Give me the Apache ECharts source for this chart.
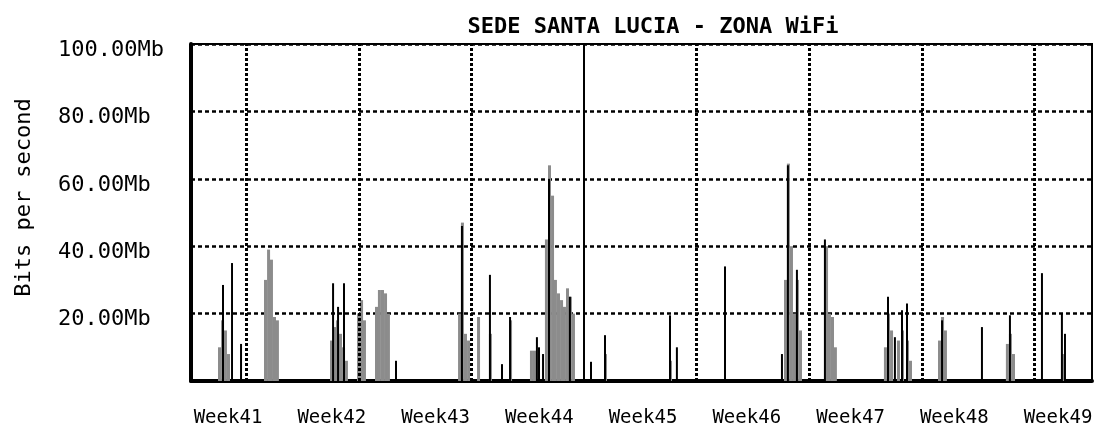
<!DOCTYPE html>
<html>
<head>
<meta charset="utf-8">
<script src="https://cdn.jsdelivr.net/npm/echarts@6/dist/echarts.min.js"></script>
<style>
html,body{margin:0;padding:0;background:#fff;}
#chart{width:1094px;height:431px;}
</style>
</head>
<body>
<div id="chart"></div>
<script>
// ---- data (x in days from plot start, y in Mb) ----
const title = 'SEDE SANTA LUCIA - ZONA WiFi';
const yAxisName = 'Bits per second';
const weekLabels = ['Week41','Week42','Week43','Week44','Week45','Week46','Week47','Week48','Week49'];
const weekBoundaries = [3.4, 10.4, 17.4, 24.4, 31.4, 38.4, 45.4, 52.4];
const monthBoundary = 24.4;

const inDays = [1.74,1.93,2.11,2.30, 4.60,4.79,4.97,5.16,5.34,
  8.70,8.89,9.07,9.26,9.45,9.63, 10.38,10.57,10.75,
  11.50,11.68,11.87,12.06,12.24, 16.66,16.84,17.03,17.22, 17.84, 18.58, 19.83,
  21.13,21.32, 22.06,22.25,22.44,22.62,22.81,23.00,23.18,23.37,23.55,23.74,
  25.73, 29.77, 36.92,37.10,37.29,37.48,37.66,37.85, 39.47,39.65,39.84,40.02,
  43.13,43.32,43.51,43.94,44.19,44.50,44.69, 46.49,46.68,46.86, 50.71,50.90,51.09, 54.19];
const inMb = [10,18,15,8, 30,39,36,19,18,
  12,16,18,14,10,6, 20,24,18,
  22,27,27,26,20, 20,47,14,12, 19, 14, 18,
  9,9, 42,64,55,30,26,24,22,27.5,25,20,
  8, 6, 30,64.5,40,20,30,15, 40,20,19,10,
  10,20,15,12,15,12,6, 12,19,15, 11,14,8, 8];

const outDays = [1.99,2.55,3.11, 8.83,9.14,9.51, 12.74,
  16.84,18.58,19.33,19.83, 21.50,21.63,21.88,22.25,23.55,
  24.86,25.73,29.77,30.20,33.19, 36.73,37.10,37.66,39.40,
  43.32,43.75,44.19,44.50, 46.68, 49.16,50.90,52.89,54.13,54.32];
const outMb = [28.5,35,11, 29,22,29, 6,
  46,31.5,5,19, 13,10,8,60,25,
  5.7,13.6,19.5,10,34, 8,64,33,42,
  25,13,21,23, 18, 16,19.5,32,20,14];

const yTicks = [0, 20, 40, 60, 80, 100];

// ---- build ----
const inData = inDays.map((d, i) => [d, inMb[i]]);
const outData = outDays.map((d, i) => [d, outMb[i]]);
const mono = 'DejaVu Sans Mono';

const chart = echarts.init(document.getElementById('chart'), null, {renderer: 'canvas'});
chart.setOption({
  animation: false,
  backgroundColor: '#ffffff',
  title: {
    text: title, left: 648, top: 11, textAlign: 'center',
    textStyle: {fontFamily: mono, fontSize: 22, fontWeight: 'bold', color: '#000'}
  },
  grid: [
    {left: 191, right: 2, top: 44, bottom: 50, show: true, borderColor: '#000', borderWidth: 2,
     backgroundColor: 'transparent', containLabel: false, outerBoundsMode: 'none'},
    {left: 228, right: 36, top: 44, bottom: 50, containLabel: false, outerBoundsMode: 'none'}
  ],
  xAxis: [
    {type: 'value', gridIndex: 0, min: 0, max: 56, axisLabel: {show: false}, axisTick: {show: false},
     splitLine: {show: false}, axisLine: {show: true, onZero: false, lineStyle: {color: '#000', width: 4}}},
    {type: 'category', gridIndex: 1, data: weekLabels, boundaryGap: false, position: 'bottom',
     axisLine: {show: false}, axisTick: {show: false}, splitLine: {show: false},
     axisLabel: {margin: 28, fontFamily: mono, fontSize: 19, color: '#000', interval: 0}}
  ],
  yAxis: [
    {type: 'value', gridIndex: 0, min: 0, max: 100, interval: 20,
     name: yAxisName, nameLocation: 'middle', nameGap: 156, nameRotate: 90,
     nameTextStyle: {fontFamily: mono, fontSize: 22, color: '#000', padding: [0, 0, 0, 30]},
     axisLine: {show: true, lineStyle: {color: '#000', width: 4}}, axisTick: {show: false},
     axisLabel: {align: 'left', margin: 133, fontFamily: mono, fontSize: 22, color: '#000',
       verticalAlign: 'top', lineHeight: 12,
       formatter: v => (yTicks.indexOf(v) > 0 ? v.toFixed(2) + 'Mb' : '')},
     splitLine: {show: true, lineStyle: {color: '#000', width: 2.5, type: [4, 3]}}},
    {type: 'value', gridIndex: 1, show: false, min: 0, max: 100}
  ],
  series: [
    {
      name: 'in', type: 'bar', xAxisIndex: 0, yAxisIndex: 0, data: inData,
      barWidth: 3, barGap: '-100%', itemStyle: {color: '#8c8c8c'}, silent: true,
      markLine: {
        silent: true, symbol: 'none', label: {show: false},
        lineStyle: {color: '#000', width: 3, type: [3, 2]},
        data: weekBoundaries.map(d => d === monthBoundary
          ? {xAxis: d, lineStyle: {type: 'solid', width: 2}}
          : {xAxis: d})
      }
    },
    {
      name: 'out', type: 'bar', xAxisIndex: 0, yAxisIndex: 0, data: outData,
      barWidth: 2, barGap: '-100%', itemStyle: {color: '#000'}, silent: true, z: 3
    }
  ]
});
</script>
</body>
</html>
